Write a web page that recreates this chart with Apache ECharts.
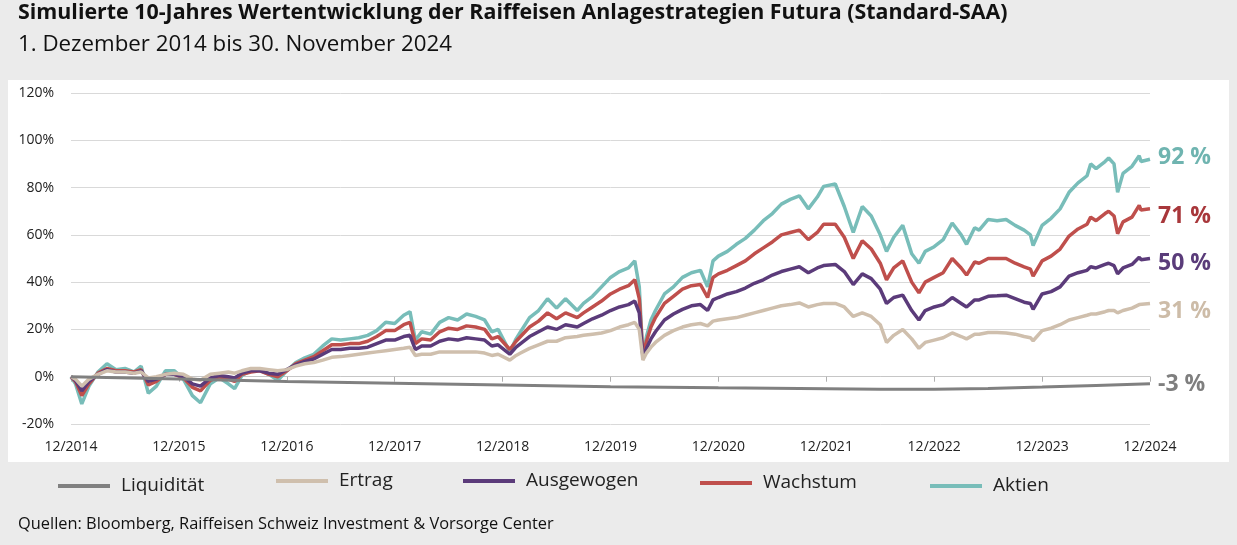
<!DOCTYPE html>
<html><head><meta charset="utf-8">
<script src="https://cdn.jsdelivr.net/npm/echarts@6/dist/echarts.min.js"></script>
<style>
html,body{margin:0;padding:0;background:#ebebeb;}
#wrap{position:relative;width:1237px;height:545px;background:#ebebeb;}
#panel{position:absolute;left:8px;top:80px;width:1221px;height:382px;background:#fff;}
#c{position:absolute;left:0;top:0;width:1237px;height:545px;}
</style>
</head><body><div id="wrap"><div id="panel"></div><div id="c"></div></div>
<script>
// month offsets from 1 Dec 2014
const months = [0,0.5,1.2,2,3,4,5,6,7,7.8,
8.6,9.5,10.5,11.5,12.5,13.5,14.4,15.5,16.5,17.5,
18.2,19,20,21,22,23,24,25,26,27,
28,29,30,31,32,33,34,35,36,37,
37.7,38.3,39,40,41,42,43,44,45,46,
46.8,47.5,48.8,49.5,50,51,52,53,54,55,
56.3,57,58,59,60,61,62,62.7,63.2,63.6,
64,64.5,65,66,67,68,69,70,70.8,71.4,
72,73,74,75,76,77,78,79,80,81,
82,83,83.7,85,86,87,88,89,90,90.7,
91.5,92.5,93.5,94.3,95,96,97,98,99,99.6,
100.5,101,102,103,104,105,106,106.7,107,108,
109,110,111,112,113,113.4,114,115,115.4,116,
116.4,117,118,118.8,119,120];

const aktien = [0,-3,-11.5,-4,2,5.5,3,3.5,2,4.5,
-7,-4,2.5,2.5,-1,-8,-11,-3,-0.5,-3,
-5,0.5,2.5,3,1,-1.5,2.5,6,8,9.5,
13,16,15.5,16,16.5,17.5,19.5,23,22.5,26,
27.5,15.5,19,18,23,25,24,26.5,25.5,24,
19,20,10.5,16,19,25,28,33,29,33,
28,31,34,38,42,44.5,46,49,38,8.5,
17,24,28,35,38,42,44,45,38,49,
51,53,56,58.5,62,66,69,73,75,76.5,
71,76,80.5,81.5,72,61,72,68,60,53,
59,64,52,48,53,55,58,65,60,56,
63,62,66.5,66,66.5,64,62,60,55.5,64,
67,71,78,82,85,90,88,91,92.5,90,
78,86,89,93.5,91,92];

const wachstum = [0,-2,-8,-3,1.5,3.5,2.5,2.5,2,3,
-3.5,-2,1,1,-0.5,-4.5,-6,-1.5,0,-1,
-2,1,2,2.5,1,0,2.5,5.5,7,8.5,
11,13.5,13.5,14,14,15,17,19.5,19.5,22,
23,14,16,15.5,19,20.5,20,21.5,21,20,
16,17,11.5,15,17,21,23.5,27,24.5,27,
25,27,29.5,32,35,37,38.5,41,33,9,
15,21,25,31,34,37,38.5,39,33.5,42,
43.5,45,47,49,52,54.5,57,60,61,62,
58,61,64.5,64.5,59,50,57.5,54,48,41,
46,49,40,35.5,40,42,44,50,46,43,
48.5,48,50,50,50,48,46.5,45.5,42.5,49,
51,54,59.5,62.5,64.5,67.5,66,69,70,68,
60.5,65.5,67.5,72.5,70.5,71];

const ausgewogen = [0,-1.5,-6,-2,1,3,2,2,1.5,2.5,
-2,-1,1,1,0,-3,-4,-0.5,0.5,0,
-0.5,1.5,2.5,2.5,1.5,1,3,5,6.5,7.5,
9.5,11.5,11.5,12,12,12.5,14,15.5,15.5,17,
17.5,11.5,13,13,15,16,15.5,16.5,16,15.5,
13,13.5,9.5,12.5,14,17,19,21,20,22,
21,22.5,24.5,26,28,29.5,30.5,32,27,8.5,
12,16,19,24,26.5,28.5,30,30.5,28,32.5,
33.5,35,36,37.5,39.5,41,43,44.5,45.5,46.5,
44,46,47,47.5,44.5,39,43.5,41.5,37,31,
33.5,34.5,28,24,28,29.5,30.5,33.5,31,29.5,
32.5,32.5,34,34.2,34.5,33,31.5,31,28.5,35,
36,38,42.5,44,45,46.5,46,47.5,48,47,
43.5,46,47.5,50.5,49.5,50];

const ertrag = [0,-1,-4,-1,1,2.5,2,2,1.5,2,
-0.5,0,1,1.5,1,-1,-1.5,1,1.5,2,
1.5,2.5,3.5,3.5,3,2.5,3,4.5,5.5,6,
7,8.2,8.5,9,9.5,10,10.5,11,11.5,12,
12.5,9,9.5,9.5,10.5,10.5,10.5,10.5,10.5,10,
9,9.5,7,9,10,12,13.5,15,15,16.5,
17,17.5,18,18.5,19.5,21,22,23,20,7,
10,12.5,14.5,17.5,19.5,21,22,22.5,21.5,23.5,
24,24.5,25,26,27,28,29,30,30.5,31.2,
29.5,30.5,31,31,29.5,25.5,27,25.5,22,14.5,
17.5,20,16,12,14.5,15.5,16.5,18.5,17,16,
18,18,18.7,18.7,18.5,18,17,16.5,15.2,19.5,
20.5,22,24,25,26,26.5,26.5,27.5,28,28,
27,28,29,30.5,30.5,31];

const liqMonths = [0,12,24,36,48,60,72,84,90,96,102,108,114,120];
const liquiditaet = [0,-1.0,-2.0,-2.8,-3.5,-4.2,-4.7,-5.1,-5.3,-5.3,-5.0,-4.4,-3.7,-3.0];

const xTickLabels = ['12/2014','12/2015','12/2016','12/2017','12/2018','12/2019','12/2020','12/2021','12/2022','12/2023','12/2024'];
const yMin = -20, yMax = 120, yStep = 20;

const TITLE = 'Simulierte 10-Jahres Wertentwicklung der Raiffeisen Anlagestrategien Futura (Standard-SAA)';
const SUBTITLE = '1. Dezember 2014 bis 30. November 2024';
const SOURCE = 'Quellen: Bloomberg, Raiffeisen Schweiz Investment & Vorsorge Center';

const FONT = '"Open Sans", "Noto Sans", sans-serif';

function mk(name, xs, vals, color, labelColor, dy, z, w) {
  const last = vals[vals.length - 1];
  return {
    type: 'line', name: name, xAxisIndex: 0, yAxisIndex: 0,
    data: xs.map((m, i) => [m, vals[i]]),
    symbol: 'none', showSymbol: false, z: z,
    lineStyle: { width: w, color: color },
    itemStyle: { color: color },
    emphasis: { disabled: true },
    endLabel: {
      show: true, formatter: Math.round(last) + ' %', color: labelColor,
      fontSize: 23, fontWeight: 'bold', fontFamily: FONT, distance: 8, offset: [0, dy]
    }
  };
}

const legendStyle = (name, left, top) => ({
  data: [name], left: left, top: top, padding: 0, icon: 'rect',
  itemWidth: 52, itemHeight: 4, selectedMode: false,
  textStyle: { fontSize: 19, color: '#222', fontFamily: FONT, lineHeight: 22, padding: [0, 0, 0, 6] }
});

const chart = echarts.init(document.getElementById('c'), null, { renderer: 'canvas' });
chart.setOption({
  animation: false,
  backgroundColor: 'transparent',
  textStyle: { fontFamily: FONT },
  title: [
    { text: TITLE, left: 18, top: 2, padding: 0, textStyle: { fontSize: 21.4, fontWeight: 'bold', color: '#111', fontFamily: FONT } },
    { text: SUBTITLE, left: 18, top: 34, padding: 0, textStyle: { fontSize: 22.3, fontWeight: 'normal', color: '#111', fontFamily: FONT } },
    { text: SOURCE, left: 18, top: 516, padding: 0, textStyle: { fontSize: 16.4, fontWeight: 'normal', color: '#111', fontFamily: FONT } }
  ],
  grid: { left: 71, top: 93, width: 1079, height: 331, containLabel: false },
  xAxis: [
    { type: 'value', min: 0, max: 120, interval: 12,
      axisLine: { show: true, onZero: true, lineStyle: { color: '#c6c6c6', width: 1 } },
      axisTick: { show: true, length: 5, lineStyle: { color: '#b0b0b0' } },
      axisLabel: { show: false }, splitLine: { show: false } },
    { type: 'value', min: 0, max: 120, interval: 12, position: 'bottom',
      axisLine: { show: false, onZero: false }, axisTick: { show: false }, splitLine: { show: false },
      axisLabel: { show: true, fontSize: 14, color: '#222', margin: 16, fontFamily: FONT,
        formatter: v => xTickLabels[Math.round(v / 12)] } }
  ],
  yAxis: { type: 'value', min: yMin, max: yMax, interval: yStep,
    axisLine: { show: false }, axisTick: { show: false },
    splitLine: { lineStyle: { color: '#d9d9d9', width: 1 } },
    axisLabel: { fontSize: 14, color: '#222', margin: 17, fontFamily: FONT, formatter: v => v + '%' } },
  legend: [
    legendStyle('Liquidität', 58, 475),
    legendStyle('Ertrag', 276, 470),
    legendStyle('Ausgewogen', 463, 470),
    legendStyle('Wachstum', 700, 472),
    legendStyle('Aktien', 930, 475)
  ],
  series: [
    mk('Aktien', months, aktien, '#78bdb9', '#6fb4b0', -2, 2, 3.5),
    mk('Wachstum', months, wachstum, '#bf4f4c', '#a8373b', 8, 3, 3.5),
    mk('Ausgewogen', months, ausgewogen, '#5b3b7a', '#5a3c7a', 5, 4, 3.5),
    mk('Ertrag', months, ertrag, '#cfbfad', '#cdbca8', 8, 5, 3.5),
    mk('Liquidität', liqMonths, liquiditaet, '#808080', '#7f7f7f', 1, 6, 3)
  ]
});
</script>
</body></html>
